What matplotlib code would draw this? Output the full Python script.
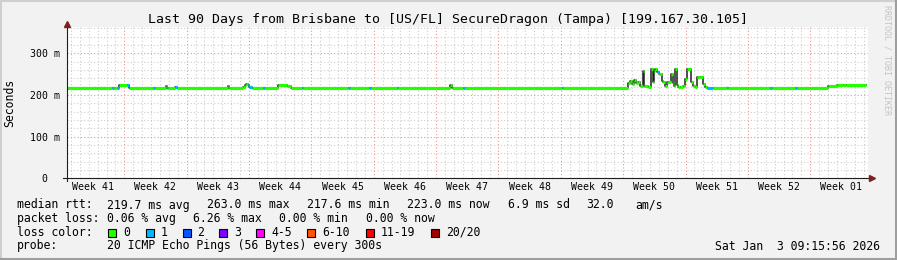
import matplotlib
matplotlib.use("Agg")
import matplotlib.pyplot as plt
from matplotlib.lines import Line2D
from matplotlib.patches import Rectangle

W, H = 897, 260

# ---- data (days from left edge of graph, median rtt in ms, lost pings) ----
rtt_days = [0.00, 5.11, 5.30, 5.70, 5.89, 6.76, 7.07, 9.71, 9.93, 11.17, 11.30, 11.39,
            12.18, 12.41, 18.13, 18.25, 19.85, 20.04, 20.15, 20.37, 20.54, 20.79,
            22.06, 22.30, 23.77, 24.78, 25.20, 26.40, 26.60, 31.60, 31.80, 33.95, 34.15,
            37.06, 37.26, 43.05, 43.24, 44.51, 44.71, 55.58, 55.78,
            63.06, 63.25, 63.47, 63.70, 63.92, 64.15, 64.37, 64.68, 64.86, 65.27,
            65.61, 65.80, 65.94, 66.06, 66.28, 66.50, 66.81, 66.95, 67.18, 67.37,
            67.51, 67.85, 68.04, 68.19, 68.30, 68.49, 68.64, 68.87, 69.20, 69.43,
            69.68, 70.07, 70.32, 70.55, 70.77, 71.11, 71.48, 71.67, 71.86, 72.57,
            74.10, 74.30, 78.97, 79.17, 81.78, 81.98, 85.51, 86.45, 87.20, 87.50]
rtt_ms = [217.6, 217.6, 217.6, 217.6, 224.6, 224.6, 217.6, 217.6, 217.6, 221.5, 217.6, 217.6,
          219.5, 217.6, 222.0, 217.6, 220.0, 223.0, 226.0, 223.0, 220.0, 217.6,
          217.6, 217.6, 225.0, 222.6, 217.6, 217.6, 217.6, 217.6, 217.6, 217.6, 217.6,
          217.6, 217.6, 224.0, 217.6, 217.6, 217.6, 217.6, 217.6,
          228.0, 233.0, 226.0, 235.0, 229.0, 232.0, 222.0, 257.0, 222.0, 220.0,
          262.0, 230.0, 258.0, 262.0, 255.0, 250.0, 234.0, 230.0, 222.0, 232.0,
          230.0, 250.0, 228.0, 222.0, 262.0, 225.0, 220.0, 219.0, 222.0, 238.0,
          262.0, 230.0, 222.0, 219.0, 242.0, 244.0, 226.0, 218.0, 217.6, 217.6,
          217.6, 217.6, 217.6, 217.6, 217.6, 217.6, 221.5, 223.0, 224.6, 223.0]
rtt_loss = [0, 1, 0, 1, 0, 1, 0, 1, 0, 0, 1, 0,
            1, 0, 0, 0, 0, 0, 0, 1, 1, 0,
            1, 0, 0, 0, 0, 1, 0, 1, 0, 1, 0,
            1, 0, 0, 0, 1, 0, 1, 0,
            0, 0, 0, 0, 0, 0, 0, 0, 0, 0,
            0, 0, 0, 0, 1, 0, 0, 0, 0, 0,
            0, 0, 0, 0, 0, 0, 0, 0, 0, 0,
            0, 0, 0, 0, 0, 0, 0, 0, 1, 0,
            1, 0, 1, 0, 1, 0, 0, 0, 0, 0]
end_day = 89.71

week_labels = ["Week 41", "Week 42", "Week 43", "Week 44", "Week 45", "Week 46", "Week 47",
               "Week 48", "Week 49", "Week 50", "Week 51", "Week 52", "Week 01"]
first_week_end = 6.49
y_ticks = [0, 100, 200, 300]
y_tick_labels = ["0", "100 m", "200 m", "300 m"]

loss_names = ["0", "1", "2", "3", "4-5", "6-10", "11-19", "20/20"]
loss_colors = ["#26ff00", "#00b8ff", "#0059ff", "#7e00ff", "#ff00ff", "#ff5500", "#ff0000", "#a10000"]

title = "Last 90 Days from Brisbane to [US/FL] SecureDragon (Tampa) [199.167.30.105]"
rtt_row = [("median rtt:", 16.7), ("219.7 ms avg", 107.3), ("263.0 ms max", 207.3),
           ("217.6 ms min", 307.3), ("223.0 ms now", 407.3), ("6.9 ms sd", 508.3),
           ("32.0", 586.7), ("am/s", 635.0)]
loss_row = [("packet loss:", 16.7), ("0.06 % avg", 107.3), ("6.26 % max", 193.3),
            ("0.00 % min", 279.4), ("0.00 % now", 365.5)]
box_x = [108.3, 145.5, 182.5, 219.3, 256.0, 307.3, 366.0, 431.0]
probe_text = "20 ICMP Echo Pings (56 Bytes) every 300s"
stamp = "Sat Jan  3 09:15:56 2026"

mono = "DejaVu Sans Mono"

# ---- figure ----
fig = plt.figure(figsize=(W / 100, H / 100), dpi=100, facecolor="#f2f2f2")


def fx(x):
    return x / W


def fy(y):
    return 1 - y / H


left, right, top, bottom = 66.5, 868.3, 26.7, 178.3
ax = fig.add_axes([fx(left), fy(bottom), fx(right - left), (bottom - top) / H])
ax.set_facecolor("white")
ax.set_xlim(0, 90)
ax.set_ylim(0, 363.8)
for s in ax.spines.values():
    s.set_visible(False)

# grid
minor_col, major_col = "#cdcdcd", "#ec9494"
d = first_week_end - 6
while d < 90:
    is_major = abs(((d - first_week_end) / 7) - round((d - first_week_end) / 7)) < 1e-6
    if d > 0.3:
        ax.axvline(d, color=major_col if is_major else minor_col, lw=0.8,
                   ls=(0, (1, 2)), zorder=1)
    d += 1
for v in range(20, 364, 20):
    ax.axhline(v, color=major_col if v % 100 == 0 else minor_col, lw=0.8,
               ls=(0, (1, 2)), zorder=1)

# median rtt: black connecting line + loss coloured bands
xs = rtt_days + [end_day]
ys = rtt_ms + [rtt_ms[-1]]
ax.step(xs, ys, where="post", color="#202020", lw=1.1, zorder=3)
ax.hlines(rtt_ms, rtt_days, xs[1:], colors=[loss_colors[l] for l in rtt_loss],
          lw=2.3, zorder=4, capstyle="butt")

# ticks
ax.set_xticks([first_week_end - 3.5 + 7 * i for i in range(len(week_labels))], week_labels,
              family=mono, fontsize=7.1)
ax.set_yticks(y_ticks, y_tick_labels, family=mono, fontsize=7.1)
ax.tick_params(axis="x", length=0, pad=6.5)
ax.tick_params(axis="y", length=0, pad=15.7)
for lb in ax.get_xticklabels():
    lb.set_va("center")
for lb in ax.get_yticklabels():
    lb.set_ha("center")
ax.set_ylabel("Seconds", family=mono, fontsize=8.3)
ax.yaxis.set_label_coords((10 - left) / (right - left), 0.5)
ax.yaxis.label.set_va("center")

# axes lines and arrows
axis_col, arrow_col = "#1f1f1f", "#801f1f"
fig.add_artist(Line2D([fx(66.5), fx(66.5)], [fy(181), fy(25)], color=axis_col, lw=0.8))
fig.add_artist(Line2D([fx(63), fx(870)], [fy(178.3), fy(178.3)], color=axis_col, lw=0.8))
fig.add_artist(Line2D([fx(66.5)], [fy(23.5)], marker="^", ms=5, color=arrow_col, mec=arrow_col))
fig.add_artist(Line2D([fx(871.5)], [fy(178.3)], marker=">", ms=5, color=arrow_col, mec=arrow_col))

# frame shading
fig.add_artist(Line2D([0, 1], [fy(1), fy(1)], color="#cfcfcf", lw=1.5))
fig.add_artist(Line2D([fx(1), fx(1)], [0, 1], color="#cfcfcf", lw=1.5))
fig.add_artist(Line2D([0, 1], [fy(259), fy(259)], color="#9e9e9e", lw=1.5))
fig.add_artist(Line2D([fx(896), fx(896)], [0, 1], color="#9e9e9e", lw=1.5))

# title and watermark
fig.text(fx(448), fy(19.3), title, family=mono, fontsize=9.5, ha="center", va="center")
fig.text(fx(887.3), fy(60), "RRDTOOL / TOBI OETIKER", family=mono, fontsize=6,
         color="#c4c4c4", rotation=-90, ha="center", va="center")

# legend
for txt, x in rtt_row:
    fig.text(fx(x), fy(205), txt, family=mono, fontsize=8.3, va="center")
for txt, x in loss_row:
    fig.text(fx(x), fy(218.3), txt, family=mono, fontsize=8.3, va="center")
fig.text(fx(16.7), fy(232.3), "loss color:", family=mono, fontsize=8.3, va="center")
for name, col, x in zip(loss_names, loss_colors, box_x):
    fig.add_artist(Rectangle((fx(x), fy(236.5)), fx(8), 8 / H, facecolor=col,
                             edgecolor="black", lw=0.8, transform=fig.transFigure))
    fig.text(fx(x + 15), fy(232.3), name, family=mono, fontsize=8.3, va="center")
fig.text(fx(16.7), fy(246), "probe:", family=mono, fontsize=8.3, va="center")
fig.text(fx(107.3), fy(246), probe_text, family=mono, fontsize=8.3, va="center")
fig.text(fx(880), fy(246), stamp, family=mono, fontsize=8.3, va="center", ha="right")

fig.savefig("out.png", dpi=100, facecolor=fig.get_facecolor())
